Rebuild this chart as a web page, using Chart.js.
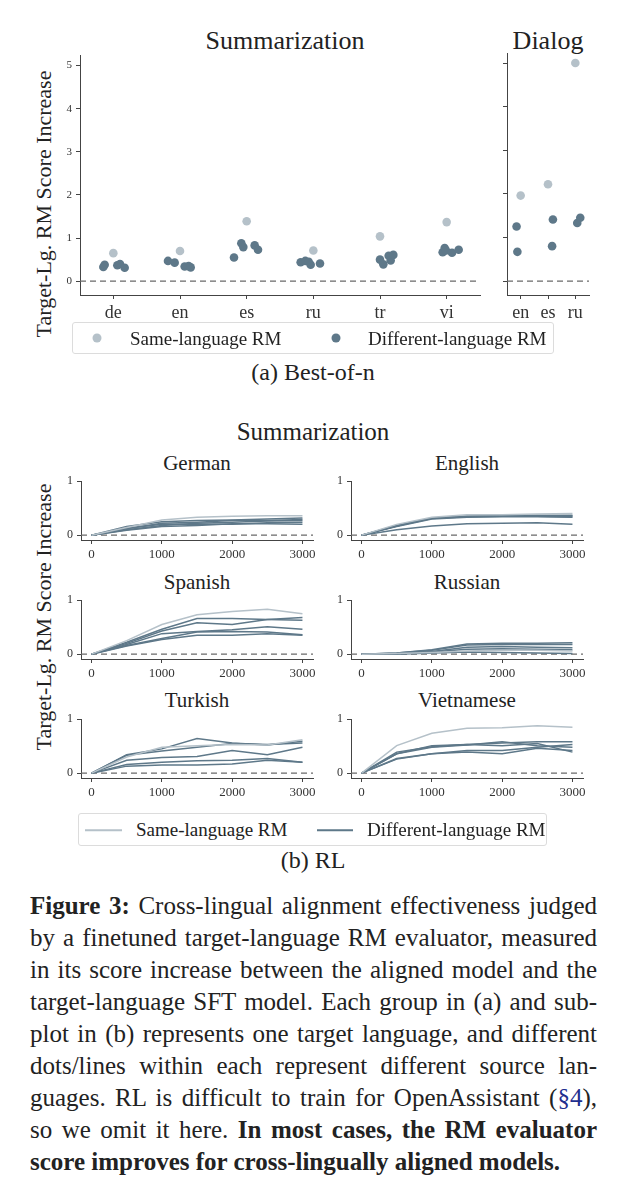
<!DOCTYPE html>
<html>
<head>
<meta charset="utf-8">
<script src="https://cdn.jsdelivr.net/npm/chart.js@4.4.0/dist/chart.umd.min.js"></script>
<style>
body { margin: 0; width: 627px; height: 1200px; background: #fff; position: relative; overflow: hidden;
       font-family: 'Liberation Serif', serif; color: #222; }
canvas { position: absolute; }
.t { position: absolute; transform: translate(-50%, -50%); white-space: nowrap; line-height: 1; }
.rot { position: absolute; transform: translate(-50%, -50%) rotate(-90deg); white-space: nowrap; line-height: 1; font-size: 22px; }
.legend { position: absolute; border: 1px solid #dcdcdc; border-radius: 3px; box-sizing: border-box; }
.lt { position: absolute; transform: translateY(-50%); white-space: nowrap; font-size: 19px; line-height: 1; }
.dot { position: absolute; width: 9px; height: 9px; border-radius: 50%; transform: translate(-50%, -50%); }
.ln { position: absolute; height: 1.5px; transform: translateY(-50%); }
.cap { position: absolute; left: 30px; width: 567px; font-size: 25px; line-height: 1; white-space: nowrap;
       text-align: justify; text-align-last: justify; transform: translateY(-50%); }
.cap.last { text-align-last: left; }
.sec { color: #1f2f8f; }
</style>
</head>
<body>

<div class="t" style="left:285px;top:41px;font-size:26px">Summarization</div>
<div class="t" style="left:548px;top:41px;font-size:26px">Dialog</div>
<div class="rot" style="left:44px;top:204px">Target-Lg. RM Score Increase</div>
<canvas id="bonSum" width="460" height="280" style="left:30px;top:45px"></canvas>
<canvas id="bonDlg" width="100" height="280" style="left:497px;top:45px"></canvas>

<div class="legend" style="left:72px;top:322px;width:482px;height:32px">
  <div class="dot" style="left:24px;top:15px;background:#b5c1c9"></div>
  <div class="lt" style="left:57px;top:15px">Same-language RM</div>
  <div class="dot" style="left:263px;top:15px;background:#5e7889"></div>
  <div class="lt" style="left:295px;top:15px">Different-language RM</div>
</div>
<div class="t" style="left:313px;top:372px;font-size:24px">(a) Best-of-n</div>

<div class="t" style="left:313px;top:431px;font-size:25px">Summarization</div>
<div class="rot" style="left:44px;top:617px">Target-Lg. RM Score Increase</div>
<div id="rlTitles"></div>
<canvas id="rl0" width="290" height="96" style="left:31px;top:470px"></canvas>
<canvas id="rl1" width="290" height="96" style="left:301px;top:470px"></canvas>
<canvas id="rl2" width="290" height="96" style="left:31px;top:589px"></canvas>
<canvas id="rl3" width="290" height="96" style="left:301px;top:589px"></canvas>
<canvas id="rl4" width="290" height="96" style="left:31px;top:708px"></canvas>
<canvas id="rl5" width="290" height="96" style="left:301px;top:708px"></canvas>

<div class="legend" style="left:78px;top:813px;width:469px;height:33px">
  <div class="ln" style="left:6px;top:16px;width:37px;background:#b5c1c9"></div>
  <div class="lt" style="left:57px;top:15px">Same-language RM</div>
  <div class="ln" style="left:238px;top:16px;width:36px;background:#5e7889"></div>
  <div class="lt" style="left:288px;top:15px">Different-language RM</div>
</div>
<div class="t" style="left:313px;top:860px;font-size:24px">(b) RL</div>

<div class="cap" style="top:905px"><b>Figure 3:</b> Cross-lingual alignment effectiveness judged</div>
<div class="cap" style="top:937px">by a finetuned target-language RM evaluator, measured</div>
<div class="cap" style="top:969px">in its score increase between the aligned model and the</div>
<div class="cap" style="top:1001px">target-language SFT model. Each group in (a) and sub-</div>
<div class="cap" style="top:1033px">plot in (b) represents one target language, and different</div>
<div class="cap" style="top:1065px">dots/lines within each represent different source lan-</div>
<div class="cap" style="top:1097px">guages. RL is difficult to train for OpenAssistant (<span class="sec">§4</span>),</div>
<div class="cap" style="top:1129px">so we omit it here. <b>In most cases, the RM evaluator</b></div>
<div class="cap last" style="top:1161px"><b>score improves for cross-lingually aligned models.</b></div>

<script>
// (a) Best-of-n: stripplot values
const sumLangs = ['de', 'en', 'es', 'ru', 'tr', 'vi'];
const sumSame = [0.65, 0.70, 1.39, 0.71, 1.04, 1.37];
const sumDiff = [
  [0.33, 0.38, 0.37, 0.40, 0.31],
  [0.47, 0.43, 0.34, 0.35, 0.32],
  [0.55, 0.88, 0.79, 0.83, 0.73],
  [0.44, 0.47, 0.45, 0.38, 0.41],
  [0.50, 0.39, 0.59, 0.48, 0.61],
  [0.67, 0.77, 0.71, 0.66, 0.73]
];
const sumJitter = [
  [-0.15, -0.13, 0.06, 0.10, 0.17],
  [-0.18, -0.08, 0.07, 0.13, 0.16],
  [-0.19, -0.08, -0.05, 0.12, 0.17],
  [-0.19, -0.12, -0.07, -0.04, 0.10],
  [0.00, 0.05, 0.13, 0.16, 0.20],
  [-0.06, -0.03, -0.01, 0.08, 0.18]
];
const dlgLangs = ['en', 'es', 'ru'];
const dlgSame = [1.96, 2.22, 5.0];
const dlgDiff = [[1.25, 0.67], [1.41, 0.80], [1.33, 1.45]];
const dlgJitter = [[-0.15, -0.12], [0.18, 0.15], [0.07, 0.18]];
const bonTicks = [0, 1, 2, 3, 4, 5];

// (b) RL: score increase over training steps
const steps = [0, 500, 1000, 1500, 2000, 2500, 3000];
const stepTicks = [0, 1000, 2000, 3000];
const rlTicks = [0, 1];
const rlPanels = ['German', 'English', 'Spanish', 'Russian', 'Turkish', 'Vietnamese'];
const rlSame = [
  [0, 0.14, 0.28, 0.33, 0.35, 0.36, 0.36],
  [0, 0.20, 0.33, 0.38, 0.38, 0.39, 0.40],
  [0, 0.25, 0.55, 0.73, 0.79, 0.83, 0.75],
  [0, 0.01, 0.03, 0.06, 0.07, 0.07, 0.06],
  [0, 0.30, 0.48, 0.51, 0.53, 0.52, 0.62],
  [0, 0.51, 0.74, 0.83, 0.84, 0.88, 0.85]
];
const rlDiff = [
  [[0, 0.16, 0.25, 0.27, 0.28, 0.30, 0.32],
   [0, 0.12, 0.22, 0.24, 0.27, 0.27, 0.29],
   [0, 0.10, 0.18, 0.22, 0.24, 0.26, 0.27],
   [0, 0.13, 0.20, 0.20, 0.20, 0.23, 0.24],
   [0, 0.09, 0.16, 0.18, 0.21, 0.21, 0.20]],
  [[0, 0.18, 0.32, 0.35, 0.36, 0.36, 0.37],
   [0, 0.17, 0.31, 0.34, 0.35, 0.35, 0.34],
   [0, 0.16, 0.30, 0.33, 0.34, 0.34, 0.33],
   [0, 0.17, 0.32, 0.35, 0.36, 0.37, 0.36],
   [0, 0.10, 0.17, 0.21, 0.22, 0.23, 0.20]],
  [[0, 0.22, 0.46, 0.66, 0.66, 0.64, 0.63],
   [0, 0.20, 0.43, 0.58, 0.55, 0.64, 0.68],
   [0, 0.18, 0.38, 0.42, 0.45, 0.51, 0.46],
   [0, 0.16, 0.29, 0.41, 0.42, 0.41, 0.36],
   [0, 0.15, 0.27, 0.35, 0.35, 0.38, 0.35]],
  [[0, 0.02, 0.08, 0.19, 0.20, 0.20, 0.21],
   [0, 0.02, 0.07, 0.17, 0.18, 0.18, 0.18],
   [0, 0.01, 0.05, 0.13, 0.14, 0.13, 0.12],
   [0, 0.01, 0.04, 0.09, 0.10, 0.09, 0.08],
   [0, 0.00, 0.02, 0.04, 0.03, 0.02, 0.01]],
  [[0, 0.34, 0.45, 0.64, 0.56, 0.52, 0.59],
   [0, 0.33, 0.41, 0.48, 0.55, 0.53, 0.56],
   [0, 0.24, 0.29, 0.31, 0.42, 0.34, 0.48],
   [0, 0.16, 0.20, 0.23, 0.24, 0.27, 0.20],
   [0, 0.13, 0.15, 0.15, 0.17, 0.24, 0.20]],
  [[0, 0.36, 0.51, 0.53, 0.56, 0.58, 0.58],
   [0, 0.36, 0.48, 0.52, 0.58, 0.51, 0.48],
   [0, 0.39, 0.49, 0.53, 0.51, 0.55, 0.39],
   [0, 0.27, 0.36, 0.42, 0.42, 0.48, 0.53],
   [0, 0.26, 0.36, 0.39, 0.36, 0.46, 0.42]]
];

const dark = '#5e7889', light = '#b5c1c9', ink = '#444';
const fam = 'Liberation Serif';

function axis(min, max, vals, fmt, fontSize, fitSize, isX, showLabels = true) {
  return {
    type: 'linear', min: min, max: max,
    afterBuildTicks: s => { s.ticks = vals.map(v => ({ value: v })); },
    afterFit: s => { if (isX) s.height = fitSize; else s.width = fitSize; },
    grid: { drawOnChartArea: false, drawTicks: true, tickLength: 4, color: ink, lineWidth: 1 },
    border: { display: true, color: ink, width: 1 },
    ticks: { display: showLabels, callback: fmt, font: { family: fam, size: fontSize }, color: '#333',
             padding: isX ? 3 : 4, maxRotation: 0, autoSkip: false }
  };
}

function zeroLine(x0, x1) {
  return { type: 'line', data: [{ x: x0, y: 0 }, { x: x1, y: 0 }], borderColor: '#6a6a6a',
           borderWidth: 1.3, borderDash: [6, 4], pointRadius: 0, order: 10 };
}

const baseOpts = { responsive: false, animation: false,
  plugins: { legend: { display: false }, tooltip: { enabled: false } } };

function bonChart(id, langs, same, diff, jitter, xMin, xMax, yAxisW, showY, padR) {
  const diffPts = [];
  diff.forEach((vals, i) => vals.forEach((v, j) => diffPts.push({ x: i + jitter[i][j], y: v })));
  const samePts = same.map((v, i) => ({ x: i, y: v }));
  new Chart(document.getElementById(id), {
    type: 'scatter',
    data: { datasets: [
      { data: diffPts, pointRadius: 4.3, pointBackgroundColor: dark, pointBorderWidth: 0, order: 1 },
      { data: samePts, pointRadius: 4.3, pointBackgroundColor: light, pointBorderWidth: 0, order: 2 },
      zeroLine(xMin, xMax)
    ] },
    options: Object.assign({}, baseOpts, {
      layout: { padding: { left: 0, right: padR, top: 8, bottom: 0 } },
      scales: {
        x: axis(xMin, xMax, langs.map((l, i) => i), v => langs[Math.round(v)], 18, 30, true),
        y: axis(-0.32, 5.23, bonTicks, v => String(v), 11, yAxisW, false, showY)
      }
    })
  });
}

bonChart('bonSum', sumLangs, sumSame, sumDiff, sumJitter, -0.5, 5.5, 50, true, 10);
bonChart('bonDlg', dlgLangs, dlgSame, dlgDiff, dlgJitter, -0.5, 2.5, 10, false, 8);

const titleBox = document.getElementById('rlTitles');
const titlePos = [[197, 463], [467, 463], [197, 582], [467, 582], [197, 700], [467, 700]];

rlPanels.forEach((name, p) => {
  const t = document.createElement('div');
  t.className = 't';
  t.style.cssText = 'left:' + titlePos[p][0] + 'px;top:' + titlePos[p][1] + 'px;font-size:21px';
  t.textContent = name;
  titleBox.appendChild(t);

  const mk = (vals, color) => ({ type: 'line', data: steps.map((s, k) => ({ x: s, y: vals[k] })),
    borderColor: color, borderWidth: 1.5, pointRadius: 0, tension: 0, fill: false });
  const sets = [mk(rlSame[p], light)];
  rlDiff[p].forEach(v => sets.push(mk(v, dark)));
  sets.push(zeroLine(-150, 3150));

  new Chart(document.getElementById('rl' + p), {
    type: 'line',
    data: { datasets: sets },
    options: Object.assign({}, baseOpts, {
      layout: { padding: { left: 0, right: 8, top: 6, bottom: 0 } },
      scales: {
        x: axis(-150, 3150, stepTicks, v => String(v), 13, 26, true),
        y: axis(-0.09, 1.0, rlTicks, v => String(v), 12, 50, false)
      }
    })
  });
});
</script>
</body>
</html>
